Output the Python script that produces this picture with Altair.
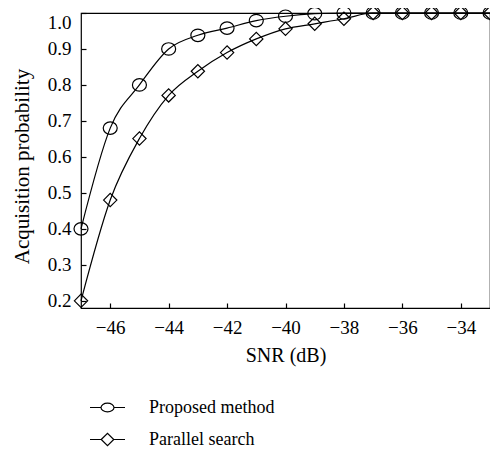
import altair as alt
import pandas as pd

snr = [-47, -46, -45, -44, -43, -42, -41, -40, -39, -38, -37, -36, -35, -34, -33]
proposed = [0.40, 0.68, 0.80, 0.90, 0.938, 0.958, 0.979, 0.991, 0.998, 1.0, 1.0, 1.0, 1.0, 1.0, 1.0]
parallel = [0.20, 0.48, 0.651, 0.771, 0.838, 0.89, 0.928, 0.956, 0.97, 0.984, 1.0, 1.0, 1.0, 1.0, 1.0]
names = ["Proposed method", "Parallel search"]
x_ticks = [-46, -44, -42, -40, -38, -36, -34]
y_ticks = [0.2, 0.3, 0.4, 0.5, 0.6, 0.7, 0.8, 0.9, 1.0]

rows = []
for s, v in zip(snr, proposed):
    rows.append({"snr": s, "p": v, "series": names[0]})
for s, v in zip(snr, parallel):
    rows.append({"snr": s, "p": v, "series": names[1]})
df = pd.DataFrame(rows)

FONT = "Liberation Serif"

circle = "M-1,0A1,0.89 0 1,1 1,0A1,0.89 0 1,1 -1,0Z"
diamond = "M-0.95,0L0,-0.95L0.95,0L0,0.95Z"
circle_leg = "M-1.4,0H-0.52M0.52,0H1.4M-0.52,0A0.52,0.35 0 1,1 0.52,0A0.52,0.35 0 1,1 -0.52,0Z"
diamond_leg = "M-1.4,0H-0.5M0.5,0H1.4M-0.5,0L0,-0.5L0.5,0L0,0.5Z"

x_enc = alt.X(
    "snr:Q",
    scale=alt.Scale(domain=[-47, -33], nice=False, zero=False),
    axis=alt.Axis(
        values=x_ticks, title="SNR (dB)", offset=-5, tickSize=5, domain=False,
        grid=False, labelPadding=10, titlePadding=8,
        labelExpr="replace(format(datum.value, 'd'), '-', '\u2212')",
    ),
)
y_enc = alt.Y(
    "p:Q",
    scale=alt.Scale(domain=[0.18, 1.0], nice=False, zero=False),
    axis=alt.Axis(
        values=y_ticks, format=".1f", title="Acquisition probability", offset=-5,
        tickSize=5, domain=False, grid=False, labelPadding=10, titlePadding=15,
        titleFontSize=21, titleY=153,
        labelBaseline=alt.condition("datum.value >= 0.99", alt.value("top"), alt.value("middle")),
    ),
)

lines = alt.Chart(df).mark_line(
    interpolate="monotone", color="black", strokeWidth=1.2
).encode(x=x_enc, y=y_enc, detail="series:N")

points = alt.Chart(df).mark_point(
    filled=False, color="black", size=196, strokeWidth=1.2, opacity=1
).encode(
    x=x_enc, y=y_enc,
    shape=alt.Shape("series:N", scale=alt.Scale(domain=names, range=[circle, diamond]), legend=None),
)

legend_layer = alt.Chart(df).transform_filter("false").mark_point(
    filled=False, color="black", size=625, strokeWidth=1.2, opacity=1
).encode(
    x=x_enc, y=y_enc,
    shape=alt.Shape(
        "series:N",
        scale=alt.Scale(domain=names, range=[circle_leg, diamond_leg]),
        legend=alt.Legend(
            title=None, orient="none", legendX=13, legendY=381, direction="vertical",
            symbolSize=625, symbolStrokeWidth=1.2, symbolStrokeColor="black",
            labelOffset=28, labelFontSize=18, labelFont=FONT, labelColor="black",
            rowPadding=9, padding=0,
        ),
    ),
)

chart = alt.layer(lines, points, legend_layer).resolve_scale(shape="independent").properties(
    width=409, height=295,
    autosize=alt.AutoSizeParams(type="none"),
    padding={"left": 73, "top": 5, "right": 0, "bottom": 142},
).configure_view(stroke="black", strokeWidth=1.2).configure_axis(
    labelFont=FONT, titleFont=FONT, labelFontSize=19, titleFontSize=20,
    labelColor="black", titleColor="black", tickColor="black", tickWidth=1.2,
    titleFontWeight="normal",
)

chart.save("out.html", embed_options={"renderer": "svg", "actions": False})
